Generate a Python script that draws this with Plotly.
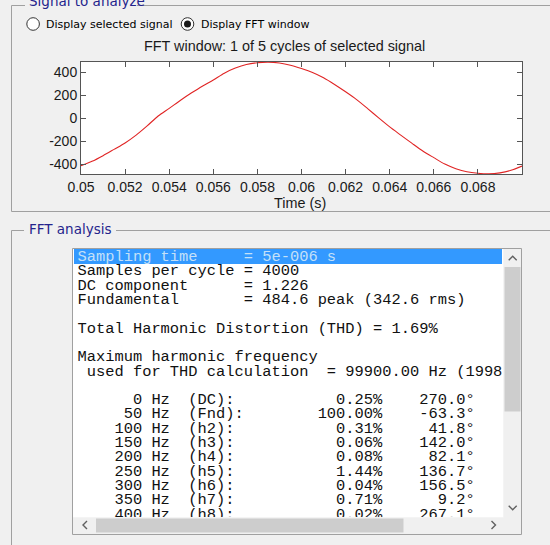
import plotly.graph_objects as go

W, H = 550, 545

# ---- signal in the FFT window (V) ----
time_s = [0.0500, 0.0505, 0.0510, 0.0515, 0.0520, 0.0525, 0.0530, 0.0535, 0.0540, 0.0545,
          0.0550, 0.0555, 0.0560, 0.0565, 0.0570, 0.0575, 0.0580, 0.0585, 0.0590, 0.0595,
          0.0600, 0.0605, 0.0610, 0.0615, 0.0620, 0.0625, 0.0630, 0.0635, 0.0640, 0.0645,
          0.0650, 0.0655, 0.0660, 0.0665, 0.0670, 0.0675, 0.0680, 0.0685, 0.0690, 0.0695,
          0.0700]
signal_v = [-412, -374, -325, -270, -214, -146, -66, 20, 86, 155,
            219, 279, 333, 392, 436, 467, 483, 488, 480, 461,
            432, 398, 352, 294, 230, 162, 84, 3, -75, -146,
            -216, -284, -342, -398, -438, -465, -478, -483, -474, -452,
            -415]

x_tick_vals = [0.05, 0.052, 0.054, 0.056, 0.058, 0.06, 0.062, 0.064, 0.066, 0.068]
x_tick_text = ["0.05", "0.052", "0.054", "0.056", "0.058", "0.06", "0.062", "0.064", "0.066", "0.068"]
y_tick_vals = [-400, -200, 0, 200, 400]
y_tick_text = ["-400", "-200", "0", "200", "400"]

# ---- FFT analysis results ----
sampling_time = "5e-006"
samples_per_cycle = 4000
dc_component = 1.226
fund_peak = 484.6
fund_rms = 342.6
thd_pct = 1.69
max_harm_hz = 99900.00
max_harm_order = 1998

freq_hz = [0, 50, 100, 150, 200, 250, 300, 350, 400]
harm_name = ["DC", "Fnd", "h2", "h3", "h4", "h5", "h6", "h7", "h8"]
harm_mag_pct = [0.25, 100.00, 0.31, 0.06, 0.08, 1.44, 0.04, 0.71, 0.02]
harm_phase_deg = [270.0, -63.3, 41.8, 142.0, 82.1, 136.7, 156.5, 9.2, 267.1]

report = [
    "Sampling time     = %s s" % sampling_time,
    "Samples per cycle = %d" % samples_per_cycle,
    "DC component      = %.3f" % dc_component,
    "Fundamental       = %.1f peak (%.1f rms)" % (fund_peak, fund_rms),
    "",
    "Total Harmonic Distortion (THD) = %.2f%%" % thd_pct,
    "",
    "Maximum harmonic frequency",
    " used for THD calculation  = %.2f Hz (%dth harmonic)" % (max_harm_hz, max_harm_order),
    "",
]
for f, n, m, p in zip(freq_hz, harm_name, harm_mag_pct, harm_phase_deg):
    report.append(("%7d Hz  (%s):" % (f, n)).ljust(18)
                  + ("%.2f%%" % m).rjust(15)
                  + ("%.1f\u00b0" % p).rjust(10))

# ---- pixel helpers ----
def X(px):
    return px / W

def Y(py):
    return 1 - py / H

GRAY = "#a0a0a0"
NAVY = "#24248c"

def seg(x0, y0, x1, y1, color=GRAY, width=1):
    return dict(type="line", xref="paper", yref="paper", x0=X(x0), y0=Y(y0),
                x1=X(x1), y1=Y(y1), line=dict(color=color, width=width), layer="above")

def box(x0, y0, x1, y1, fill, line=None, layer="above"):
    return dict(type="rect", xref="paper", yref="paper", x0=X(x0), y0=Y(y0),
                x1=X(x1), y1=Y(y1), fillcolor=fill,
                line=dict(color=line or fill, width=1 if line else 0), layer=layer)

def chevron(pts, color="#606060"):
    d = "M " + " L ".join("%.5f %.5f" % (X(a), Y(b)) for a, b in pts)
    return dict(type="path", xref="paper", yref="paper", path=d,
                line=dict(color=color, width=1.4), layer="above")

fig = go.Figure()

# waveform
fig.add_trace(go.Scatter(
    x=time_s, y=signal_v, mode="lines",
    line=dict(color="#e02424", width=1.1, shape="spline", smoothing=0.8),
    hoverinfo="skip", showlegend=False, xaxis="x", yaxis="y"))

# report text in the list box
nb = [s.replace(" ", "\u00a0") for s in report]
row_y = [257.3 + 14.3 * i for i in range(len(nb))]
row_col = ["#c4e0f8"] + ["#111111"] * (len(nb) - 1)
fig.add_trace(go.Scatter(
    x=[77.5] * len(nb), y=row_y, text=nb, mode="text", textposition="middle right",
    textfont=dict(family="Liberation Mono", size=15.4, color=row_col),
    cliponaxis=True, hoverinfo="skip", showlegend=False, xaxis="x2", yaxis="y2"))

axis_font = dict(family="Liberation Sans, Arial", size=14, color="#1a1a1a")
frame = "#555555"

fig.update_layout(
    width=W, height=H, autosize=False,
    margin=dict(l=0, r=0, t=0, b=0, pad=0, autoexpand=False),
    paper_bgcolor="#f0f0f0", plot_bgcolor="#ffffff",
    xaxis=dict(domain=[X(81), X(522)], range=[0.05, 0.07], tickvals=x_tick_vals,
               ticktext=x_tick_text, ticks="inside", ticklen=5, tickcolor=frame,
               showline=True, linecolor=frame, linewidth=1, mirror="allticks",
               showgrid=False, zeroline=False, tickfont=axis_font, anchor="y",
               automargin=False, fixedrange=True),
    yaxis=dict(domain=[Y(174), Y(62)], range=[-484, 489], tickvals=y_tick_vals,
               ticktext=y_tick_text, ticks="inside", ticklen=5, tickcolor=frame,
               showline=True, linecolor=frame, linewidth=1, mirror="allticks",
               showgrid=False, zeroline=False, tickfont=axis_font, anchor="x",
               automargin=False, fixedrange=True),
    xaxis2=dict(domain=[X(74), X(503)], range=[74, 503], visible=False,
                anchor="y2", automargin=False, fixedrange=True),
    yaxis2=dict(domain=[Y(517), Y(249)], range=[517, 249], visible=False,
                anchor="x2", automargin=False, fixedrange=True),
)

shapes = [
    # group box "Signal to analyze"
    seg(11.5, 5.5, 25, 5.5), seg(137, 5.5, 550, 5.5),
    seg(11.5, 5.5, 11.5, 211.5), seg(11.5, 211.5, 550, 211.5),
    # group box "FFT analysis"
    seg(11.5, 230.5, 24, 230.5), seg(116, 230.5, 550, 230.5),
    seg(11.5, 230.5, 11.5, 545),
    # radio buttons
    dict(type="circle", xref="paper", yref="paper", x0=X(26.8), x1=X(39.4),
         y0=Y(30.3), y1=Y(17.7), fillcolor="#ffffff", line=dict(color="#333333", width=1)),
    dict(type="circle", xref="paper", yref="paper", x0=X(181.2), x1=X(193.8),
         y0=Y(30.3), y1=Y(17.7), fillcolor="#ffffff", line=dict(color="#333333", width=1)),
    dict(type="circle", xref="paper", yref="paper", x0=X(184), x1=X(191),
         y0=Y(27.5), y1=Y(20.5), fillcolor="#1a1a1a", line=dict(color="#1a1a1a", width=0)),
    # list box background and selected row
    box(72.5, 248.5, 503.5, 517.5, "#ffffff", layer="below"),
    dict(type="rect", xref="x2", yref="y2", x0=74, x1=502, y0=249, y1=264,
         fillcolor="#3399ff", line=dict(width=0), layer="below"),
    # vertical scroll bar
    box(503.5, 249, 521.5, 517.5, "#f0f0f0"),
    box(504.5, 267, 520.5, 411.5, "#cdcdcd"),
    chevron([(508.7, 260.3), (512.7, 256.3), (516.7, 260.3)]),
    chevron([(508.7, 505.7), (512.7, 509.7), (516.7, 505.7)]),
    # horizontal scroll bar
    box(73, 517.5, 503.5, 534, "#f0f0f0"),
    box(96, 518.5, 403.5, 532.5, "#cdcdcd"),
    chevron([(87, 521), (83, 525), (87, 529)]),
    chevron([(491.5, 521), (495.5, 525), (491.5, 529)]),
    # list box border
    dict(type="rect", xref="paper", yref="paper", x0=X(72.5), x1=X(521.5),
         y0=Y(534.5), y1=Y(248.5), line=dict(color=GRAY, width=1), layer="above"),
]
fig.update_layout(shapes=shapes)

def label(px, py, text, size, family, color, xanchor="left"):
    return dict(xref="paper", yref="paper", x=X(px), y=Y(py), text=text,
                showarrow=False, xanchor=xanchor, yanchor="middle",
                font=dict(family=family, size=size, color=color))

fig.update_layout(annotations=[
    label(27, 1, "Signal to analyze", 13.5, "DejaVu Sans", NAVY),
    label(27, 229, "FFT analysis", 13.5, "DejaVu Sans", NAVY),
    label(44, 24, "Display selected signal", 11, "DejaVu Sans", "#000000"),
    label(199, 24, "Display FFT window", 11, "DejaVu Sans", "#000000"),
    label(284, 46, "FFT window: 1 of 5 cycles of selected signal", 14.4,
          "Liberation Sans, Arial", "#1a1a1a", xanchor="center"),
    label(300, 203, "Time (s)", 14.4, "Liberation Sans, Arial", "#1a1a1a",
          xanchor="center"),
])

fig.write_html("out.html", config={"displayModeBar": False})
